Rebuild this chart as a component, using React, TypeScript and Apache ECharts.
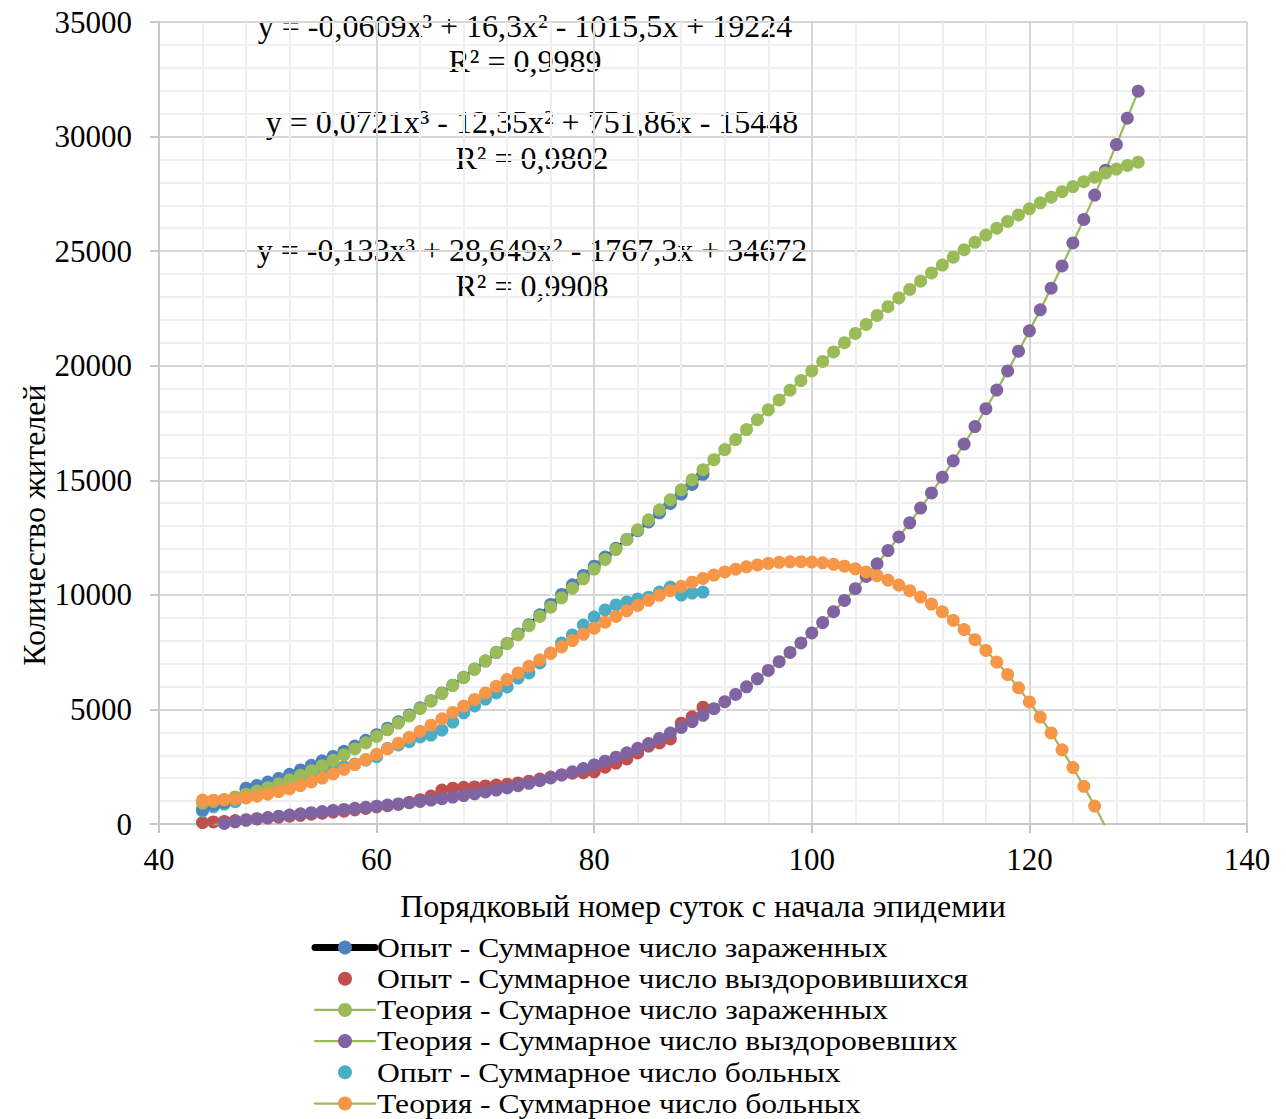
import React, { useEffect, useRef } from "react";
import * as echarts from "echarts";

const FONT = "Liberation Serif";

// Days (x values)
const expDays = [44, 45, 46, 47, 48, 49, 50, 51, 52, 53, 54, 55, 56, 57, 58, 59, 60, 61, 62, 63, 64, 65, 66, 67, 68, 69, 70, 71, 72, 73, 74, 75, 76, 77, 78, 79, 80, 81, 82, 83, 84, 85, 86, 87, 88, 89, 90];
const theoryDays = [44, 45, 46, 47, 48, 49, 50, 51, 52, 53, 54, 55, 56, 57, 58, 59, 60, 61, 62, 63, 64, 65, 66, 67, 68, 69, 70, 71, 72, 73, 74, 75, 76, 77, 78, 79, 80, 81, 82, 83, 84, 85, 86, 87, 88, 89, 90, 91, 92, 93, 94, 95, 96, 97, 98, 99, 100, 101, 102, 103, 104, 105, 106, 107, 108, 109, 110, 111, 112, 113, 114, 115, 116, 117, 118, 119, 120, 121, 122, 123, 124, 125, 126, 127, 128, 129, 130];

// Experiment series
const expInfected = [640, 830, 960, 1100, 1560, 1680, 1830, 1990, 2170, 2360, 2560, 2760, 2950, 3170, 3400, 3650, 3900, 4180, 4460, 4760, 5070, 5380, 5720, 6060, 6400, 6760, 7110, 7480, 7880, 8290, 8700, 9130, 9580, 10020, 10440, 10850, 11250, 11650, 12030, 12420, 12800, 13180, 13580, 13990, 14400, 14820, 15260];
const expRecovered = [60, 90, 110, 150, 190, 230, 260, 300, 340, 380, 430, 470, 520, 560, 620, 680, 750, 800, 860, 940, 1060, 1220, 1480, 1560, 1600, 1620, 1660, 1700, 1740, 1790, 1870, 1960, 2050, 2140, 2220, 2240, 2280, 2480, 2660, 2840, 3100, 3400, 3540, 3710, 4400, 4680, 5100];
const expSick = [570, 750, 870, 975, 1480, 1530, 1610, 1700, 1850, 2000, 2140, 2280, 2400, 2500, 2620, 2790, 2940, 3300, 3450, 3590, 3800, 3880, 4100, 4450, 4850, 5150, 5450, 5720, 5980, 6370, 6590, 7030, 7460, 7900, 8250, 8680, 9030, 9340, 9560, 9690, 9820, 9900, 10120, 10340, 9990, 10080, 10120];

// Theory series
const theoryInfected = [911, 984, 1074, 1179, 1300, 1436, 1586, 1751, 1930, 2123, 2328, 2547, 2778, 3021, 3276, 3542, 3819, 4108, 4406, 4714, 5032, 5359, 5695, 6040, 6392, 6752, 7120, 7495, 7876, 8264, 8657, 9057, 9461, 9870, 10284, 10701, 11123, 11548, 11976, 12406, 12839, 13273, 13710, 14147, 14585, 15024, 15462, 15901, 16339, 16775, 17211, 17644, 18076, 18505, 18931, 19354, 19774, 20189, 20600, 21006, 21408, 21804, 22194, 22578, 22956, 23327, 23691, 24047, 24395, 24735, 25066, 25388, 25700, 26003, 26296, 26578, 26849, 27109, 27357, 27594, 27818, 28029, 28227, 28412, 28583, 28740, 28882];
const theoryRecovered = [-134, -53, 23, 94, 161, 223, 283, 339, 392, 443, 493, 541, 589, 635, 682, 729, 777, 827, 877, 931, 986, 1045, 1107, 1173, 1243, 1318, 1398, 1483, 1575, 1673, 1778, 1890, 2010, 2139, 2275, 2421, 2577, 2742, 2917, 3104, 3301, 3511, 3732, 3966, 4213, 4473, 4746, 5035, 5337, 5655, 5988, 6338, 6703, 7086, 7485, 7903, 8338, 8792, 9265, 9758, 10270, 10803, 11356, 11931, 12527, 13145, 13787, 14450, 15137, 15848, 16583, 17342, 18127, 18937, 19773, 20635, 21524, 22440, 23384, 24356, 25357, 26386, 27445, 28534, 29653, 30802, 31983];
const theorySick = [1045, 1037, 1051, 1085, 1140, 1213, 1304, 1413, 1538, 1679, 1835, 2005, 2189, 2386, 2594, 2813, 3042, 3281, 3528, 3784, 4046, 4314, 4588, 4867, 5149, 5435, 5722, 6011, 6301, 6591, 6879, 7166, 7451, 7732, 8008, 8280, 8546, 8806, 9058, 9302, 9537, 9763, 9978, 10181, 10373, 10551, 10716, 10866, 11001, 11120, 11222, 11306, 11372, 11418, 11444, 11449, 11433, 11396, 11335, 11249, 11138, 11001, 10838, 10647, 10429, 10181, 9904, 9597, 9258, 8887, 8483, 8046, 7573, 7066, 6523, 5943, 5325, 4669, 3973, 3238, 2461, 1643, 782, -122, -1070, -2062, -3101];

const seriesNames = [
  "Опыт - Суммарное число зараженных",
  "Опыт - Суммарное число выздоровившихся",
  "Теория - Сумарное число зараженных",
  "Теория - Суммарное число выздоровевших",
  "Опыт - Суммарное число больных",
  "Теория - Суммарное число больных",
];

const xAxisTitle = "Порядковый номер суток с начала эпидемии";
const yAxisTitle = "Количество жителей";

const equations = [
  { eq: "y = -0,0609x³ + 16,3x² - 1015,5x + 19224", r2: "R² = 0,9989" },
  { eq: "y = 0,0721x³ - 12,35x² + 751,86x - 15448", r2: "R² = 0,9802" },
  { eq: "y = -0,133x³ + 28,649x² - 1767,3x + 34672", r2: "R² = 0,9908" },
];

const C_BLUE = "#4F81BD";
const C_RED = "#C0504D";
const C_GREEN = "#9BBB59";
const C_PURPLE = "#8064A2";
const C_CYAN = "#4BACC6";
const C_ORANGE = "#F79646";

// legend entries in the reference's order: marker colour, line colour/width (null = no line)
const legendMarkers = [C_BLUE, C_RED, C_GREEN, C_PURPLE, C_CYAN, C_ORANGE];
const legendLines: ({ color: string; width: number } | null)[] = [
  { color: "#000", width: 7 },
  null,
  { color: C_GREEN, width: 2.25 },
  { color: C_GREEN, width: 2.25 },
  null,
  { color: C_GREEN, width: 2.25 },
];

const pair = (xs: number[], ys: number[]) => xs.map((x, i) => [x, ys[i]]);
const nExp = expDays.length;

export default function App() {
  const ref = useRef<HTMLDivElement>(null);
  useEffect(() => {
    const chart = echarts.init(ref.current!, null, { renderer: "svg" });
    const MS = 13;
    const theoryLine = { color: C_GREEN, width: 2.25 };
    const dotted = (color: string) => ({
      color,
      width: 4,
      type: [0.5, 8.5],
      cap: "round",
    });
    const axisLabel = {
      color: "#000",
      fontSize: 31,
      fontFamily: FONT,
      formatter: (v: number) => String(v),
    };
    const txt = (text: string, size: number) => ({
      text,
      fill: "#000",
      fontSize: size,
      fontFamily: FONT,
      align: "center",
      verticalAlign: "middle",
    });

    // legend built from graphic elements (tight line spacing as in the reference)
    const LEG_X = 315;
    const LEG_Y0 = 947.5;
    const LEG_DY = 31.2;
    const legendGraphics: any[] = [];
    seriesNames.forEach((name, i) => {
      const cy = LEG_Y0 + i * LEG_DY;
      const ln = legendLines[i];
      if (ln) {
        legendGraphics.push({
          type: "line",
          silent: true,
          shape: { x1: LEG_X, y1: cy, x2: LEG_X + 60, y2: cy },
          style: { stroke: ln.color, lineWidth: ln.width, lineCap: "round" },
        });
      }
      legendGraphics.push({
        type: "circle",
        silent: true,
        shape: { cx: LEG_X + 30, cy, r: 7 },
        style: { fill: legendMarkers[i] },
      });
      legendGraphics.push({
        type: "text",
        silent: true,
        x: LEG_X + 62,
        y: cy,
        scaleX: 1.15,
        style: {
          text: name,
          fill: "#000",
          fontSize: 27.5,
          fontFamily: FONT,
          align: "left",
          verticalAlign: "middle",
        },
      });
    });

    const option: any = {
      animation: false,
      backgroundColor: "#fff",
      textStyle: { fontFamily: FONT },
      grid: { left: 159, right: 39, top: 22, bottom: 295, containLabel: false },
      xAxis: {
        type: "value",
        min: 40,
        max: 140,
        interval: 20,
        name: xAxisTitle,
        nameLocation: "middle",
        nameGap: 66,
        nameTextStyle: { color: "#000", fontSize: 32, fontFamily: FONT },
        axisLine: { show: true, lineStyle: { color: "#C8C8C8", width: 2 } },
        axisTick: { show: true, length: 9, lineStyle: { color: "#C8C8C8", width: 2 } },
        axisLabel: { ...axisLabel, margin: 20 },
        splitLine: { show: true, lineStyle: { color: "#D6D6D6", width: 2 } },
        minorTick: { show: false, splitNumber: 5 },
        minorSplitLine: { show: true, lineStyle: { color: "#EFEFEF", width: 2 } },
      },
      yAxis: {
        type: "value",
        min: 0,
        max: 35000,
        interval: 5000,
        axisLine: { show: true, lineStyle: { color: "#C8C8C8", width: 2 } },
        axisTick: { show: true, length: 9, lineStyle: { color: "#C8C8C8", width: 2 } },
        axisLabel: { ...axisLabel, margin: 27 },
        splitLine: { show: true, lineStyle: { color: "#D6D6D6", width: 2 } },
        minorTick: { show: false, splitNumber: 5 },
        minorSplitLine: { show: true, lineStyle: { color: "#EFEFEF", width: 2 } },
      },
      series: [
        {
          name: seriesNames[3],
          type: "line",
          data: pair(theoryDays, theoryRecovered),
          symbol: "circle",
          symbolSize: MS,
          itemStyle: { color: C_PURPLE },
          lineStyle: theoryLine,
          clip: true,
        },
        {
          name: seriesNames[1],
          type: "scatter",
          data: pair(expDays, expRecovered),
          symbol: "circle",
          symbolSize: MS,
          itemStyle: { color: C_RED, opacity: 1 },
        },
        {
          name: seriesNames[0],
          type: "line",
          data: pair(expDays, expInfected),
          symbol: "circle",
          symbolSize: MS,
          itemStyle: { color: C_BLUE },
          lineStyle: { color: "#000", width: 3 },
        },
        {
          name: seriesNames[2],
          type: "line",
          data: pair(theoryDays, theoryInfected),
          symbol: "circle",
          symbolSize: MS,
          itemStyle: { color: C_GREEN },
          lineStyle: theoryLine,
          clip: true,
        },
        {
          name: seriesNames[5],
          type: "line",
          data: pair(theoryDays, theorySick),
          symbol: "circle",
          symbolSize: MS,
          itemStyle: { color: C_ORANGE },
          lineStyle: theoryLine,
          clip: true,
        },
        {
          name: seriesNames[4],
          type: "scatter",
          data: pair(expDays, expSick),
          symbol: "circle",
          symbolSize: MS,
          itemStyle: { color: C_CYAN, opacity: 1 },
        },
        // trend lines (polynomial fits of experiment data over the experiment range)
        {
          name: "trend-blue",
          type: "line",
          data: pair(expDays, theoryInfected.slice(0, nExp)),
          symbol: "none",
          silent: true,
          lineStyle: dotted(C_BLUE),
        },
        {
          name: "trend-red",
          type: "line",
          data: pair(expDays, theoryRecovered.slice(0, nExp)),
          symbol: "none",
          silent: true,
          lineStyle: dotted(C_RED),
        },
        {
          name: "trend-cyan",
          type: "line",
          data: pair(expDays, theorySick.slice(0, nExp)),
          symbol: "none",
          silent: true,
          lineStyle: dotted(C_CYAN),
        },
      ],
      graphic: [
        { type: "text", x: 525, y: 26, style: txt(equations[0].eq, 32) },
        { type: "text", x: 525, y: 61, style: txt(equations[0].r2, 32) },
        { type: "text", x: 532, y: 122, style: txt(equations[1].eq, 32) },
        { type: "text", x: 532, y: 158, style: txt(equations[1].r2, 32) },
        { type: "text", x: 532, y: 250, style: txt(equations[2].eq, 32) },
        { type: "text", x: 532, y: 286, style: txt(equations[2].r2, 32) },
        { type: "text", x: 34, y: 525, rotation: Math.PI / 2, style: txt(yAxisTitle, 32) },
        ...legendGraphics,
      ],
    };
    chart.setOption(option);
    return () => chart.dispose();
  }, []);
  return (
    <div
      ref={ref}
      style={{ position: "fixed", left: 0, top: 0, width: 1286, height: 1119 }}
    />
  );
}
